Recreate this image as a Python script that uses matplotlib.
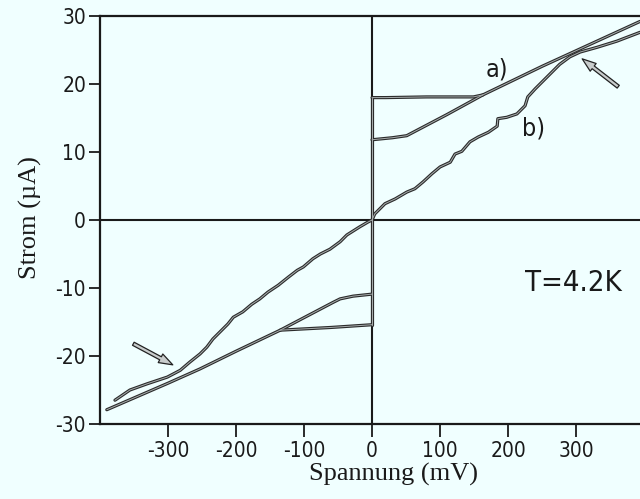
import os
import matplotlib
matplotlib.use("Agg")
import matplotlib.pyplot as plt
from matplotlib import font_manager
from matplotlib.font_manager import FontProperties

# ---- fonts -------------------------------------------------------------
def narrow_font_file():
    files = [f.fname for f in font_manager.fontManager.ttflist]
    extra = font_manager.findSystemFonts()
    files = list(dict.fromkeys(files + extra))
    prefs = ["LiberationSansNarrow-Regular", "DejaVuSansCondensed.ttf",
             "Roboto_Condensed-Regular", "RobotoCondensed-Regular",
             "OpenSans_Condensed-Regular", "OpenSansCondensed-Regular"]
    for p in prefs:
        for f in files:
            if p in os.path.basename(f):
                return f
    return None


NARROW = narrow_font_file()


def tick_font(size):
    if NARROW:
        return FontProperties(fname=NARROW, size=size)
    return FontProperties(family="DejaVu Sans", size=size * 0.82)


LABEL_FAMILY = "Liberation Serif"

# ---- data (voltage in mV, current in uA) -------------------------------
# curve a): hysteretic characteristic, switching branches plus ohmic line
a_pos_upper_v = [0, 20, 80, 149, 163, 250, 394]
a_pos_upper_i = [18.0, 18.0, 18.1, 18.1, 18.4, 22.6, 29.2]
a_pos_lower_v = [0, 10, 30, 51, 110, 163]
a_pos_lower_i = [11.8, 11.9, 12.1, 12.4, 15.5, 18.4]
a_jump_v = [0, 0]
a_jump_i = [-15.4, 18.0]
a_neg_upper_v = [0, -28, -47, -57, -135, -200, -253, -300, -390]
a_neg_upper_i = [-10.9, -11.2, -11.6, -12.1, -16.2, -19.3, -21.9, -24.0, -27.9]
a_neg_lower_v = [0, -60, -135]
a_neg_lower_i = [-15.4, -15.8, -16.2]

# curve b): stepped characteristic through the origin
b_v = [-378, -356, -331, -301, -282, -268, -253, -243, -234, -221, -212, -204,
       -190, -177, -165, -153, -138, -123, -110, -101, -87, -76, -62, -47,
       -37, -18, -6, 0, 4, 19, 34, 51, 63, 75, 88, 100, 115, 122, 132, 144,
       156, 171, 184, 185, 198, 213, 225, 229, 240, 251, 265, 276, 291, 306,
       331, 360, 394]
b_i = [-26.5, -25.0, -24.1, -23.1, -22.1, -20.9, -19.7, -18.7, -17.5, -16.2,
       -15.3, -14.3, -13.5, -12.4, -11.6, -10.6, -9.6, -8.4, -7.4, -6.9, -5.7,
       -5.0, -4.3, -3.2, -2.2, -1.0, -0.3, 0.0, 0.9, 2.4, 3.1, 4.1, 4.6, 5.6,
       6.8, 7.8, 8.5, 9.7, 10.1, 11.5, 12.2, 12.9, 13.8, 14.9, 15.1, 15.6,
       16.8, 18.1, 19.3, 20.4, 21.8, 22.9, 24.0, 24.7, 25.4, 26.3, 27.6]

x_ticks = [-300, -200, -100, 0, 100, 200, 300]
x_tick_labels = ["-300", "-200", "-100", "0", "100", "200", "300"]
y_ticks = [-30, -20, -10, 0, 10, 20, 30]
y_tick_labels = ["-30", "-20", "-10", "0", "10", "20", "30"]

BG = "#f0ffff"
INK = "#1a1a1a"

fig = plt.figure(figsize=(6.4, 4.99), dpi=100, facecolor=BG)
ax = fig.add_axes([100 / 640, 75 / 499, 540 / 640, 408 / 499], facecolor=BG)
ax.set_xlim(-400, 394)
ax.set_ylim(-30, 30)

# axis cross through the origin
ax.axhline(0, color=INK, lw=1.5, zorder=1)
ax.axvline(0, color=INK, lw=1.5, zorder=1)


def trace(v, i):
    # pen trace: dark outline with a lighter core
    ax.plot(v, i, color="#2b2b2b", lw=2.3, solid_capstyle="round",
            solid_joinstyle="round", zorder=3)
    ax.plot(v, i, color="#a8aeae", lw=0.7, solid_capstyle="round",
            solid_joinstyle="round", zorder=4)


trace(a_jump_v, a_jump_i)
trace(a_pos_upper_v, a_pos_upper_i)
trace(a_pos_lower_v, a_pos_lower_i)
trace(a_neg_upper_v, a_neg_upper_i)
trace(a_neg_lower_v, a_neg_lower_i)
trace(b_v, b_i)

# arrows marking where curve b) departs from the ohmic line
arrow_style = dict(arrowstyle="simple,head_width=0.7,head_length=1.0,tail_width=0.25",
                   fc="#c8cccc", ec="#222222", lw=0.9, shrinkA=0, shrinkB=0)
ax.annotate("", xy=(309, 23.7), xytext=(362, 19.6), arrowprops=arrow_style, zorder=5)
ax.annotate("", xy=(-293, -21.3), xytext=(-351, -18.2), arrowprops=arrow_style, zorder=5)

# curve labels and temperature
ax.text(183, 22.2, "a)", fontproperties=tick_font(18), color=INK,
        ha="center", va="center")
ax.text(237, 13.4, "b)", fontproperties=tick_font(18), color=INK,
        ha="center", va="center")
ax.text(225, -10.4, "T=4.2K", fontproperties=tick_font(21), color=INK,
        ha="left", va="baseline")

# spines and ticks
for side in ("left", "top", "bottom"):
    ax.spines[side].set_linewidth(1.6)
    ax.spines[side].set_color(INK)
ax.spines["right"].set_visible(False)

ax.set_xticks(x_ticks)
ax.set_xticklabels(x_tick_labels)
ax.set_yticks(y_ticks)
ax.set_yticklabels(y_tick_labels)
ax.tick_params(axis="x", direction="out", length=9, width=1.3, pad=3,
               colors=INK)
ax.tick_params(axis="y", direction="out", length=8, width=1.3, pad=2,
               colors=INK)
for lab in ax.get_xticklabels() + ax.get_yticklabels():
    lab.set_fontproperties(tick_font(15))

ax.set_xlabel("Spannung (mV)", fontsize=19, family=LABEL_FAMILY, color=INK)
ax.xaxis.set_label_coords(0.543, -0.095)
ax.set_ylabel("Strom (\u00b5A)", fontsize=19, family=LABEL_FAMILY, color=INK)
ax.yaxis.set_label_coords(-0.107, 0.507)

fig.savefig("out.png", dpi=100, facecolor=BG)
